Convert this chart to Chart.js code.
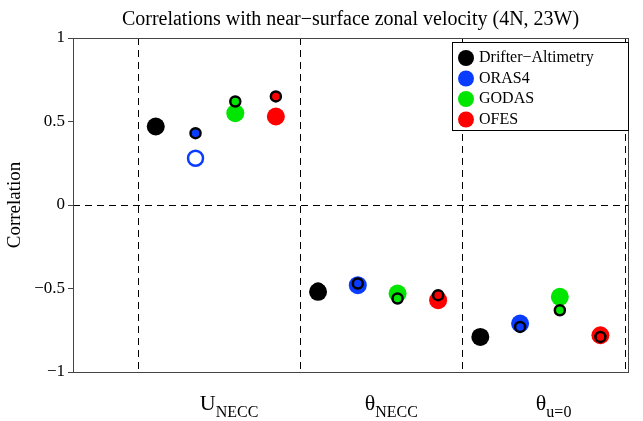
<!DOCTYPE html>
<html>
<head>
<meta charset="utf-8">
<script src="https://cdn.jsdelivr.net/npm/chart.js@4"></script>
<style>
  html, body { margin: 0; padding: 0; background: #fff; }
  #wrap { width: 643px; height: 421px; }
</style>
</head>
<body>
<div id="wrap"><canvas id="corrChart"></canvas></div>
<script>
// categories: U_NECC, theta_NECC, theta_u=0 (at x = 1, 2, 3)
const categories = [1, 2, 3];
const offsets = [-0.39, -0.145, 0.1, 0.35];
const models = ['Drifter\u2212Altimetry', 'ORAS4', 'GODAS', 'OFES'];
const colors = ['#000000', '#0a3cff', '#00e600', '#ff0000'];

// large filled markers
const driftBig = [0.47, -0.52, -0.79];
const orasBig = [null, -0.48, -0.71];
const godasBig = [0.55, -0.53, -0.55];
const ofesBig = [0.53, -0.57, -0.78];
// small markers with black edge
const driftSmall = [null, -0.50, null];
const orasSmall = [0.43, -0.47, -0.73];
const godasSmall = [0.62, -0.56, -0.63];
const ofesSmall = [0.65, -0.54, -0.79];
// open marker
const orasOpen = [0.28, null, null];

const yTicks = [-1, -0.5, 0, 0.5, 1];
const font = '"Liberation Serif", "DejaVu Serif", serif';

function pts(vals, k) {
    return vals.map((v, i) => v === null ? null : { x: categories[i] + offsets[k], y: v })
        .filter(p => p);
}

const bigSets = [driftBig, orasBig, godasBig, ofesBig].map((vals, k) => ({
    label: models[k], data: pts(vals, k), pointRadius: 9, pointHoverRadius: 9,
    backgroundColor: colors[k], borderColor: colors[k], borderWidth: 0, order: 3
}));
const smallSets = [driftSmall, orasSmall, godasSmall, ofesSmall].map((vals, k) => ({
    label: models[k] + ' s', data: pts(vals, k), pointRadius: 5, pointHoverRadius: 5,
    backgroundColor: colors[k], borderColor: '#000', borderWidth: 2.5, order: 1
}));
const openSet = {
    label: 'ORAS4 open', data: pts(orasOpen, 1), pointRadius: 7.5, pointHoverRadius: 7.5,
    backgroundColor: '#fff', borderColor: colors[1], borderWidth: 2.5, order: 2
};

const decor = {
    id: 'decor',
    beforeDatasetsDraw(chart) {
        const { ctx, chartArea: a, scales: { x, y } } = chart;
        ctx.save();
        ctx.strokeStyle = '#000';
        ctx.lineWidth = 1;
        ctx.setLineDash([7, 5]);
        [0.5, 1.5, 2.5, 3.5].forEach(v => {
            const px = Math.round(x.getPixelForValue(v)) + 0.5;
            ctx.beginPath(); ctx.moveTo(px, a.top); ctx.lineTo(px, a.bottom); ctx.stroke();
        });
        const py = Math.round(y.getPixelForValue(0)) + 0.5;
        ctx.beginPath(); ctx.moveTo(a.left, py); ctx.lineTo(a.right, py); ctx.stroke();
        ctx.restore();
    },
    afterDraw(chart) {
        const { ctx, chartArea: a, scales: { x } } = chart;
        ctx.save();
        // frame
        ctx.strokeStyle = '#444';
        ctx.lineWidth = 1;
        ctx.strokeRect(a.left + 0.5, a.top + 0.5, a.width, a.height);
        // title
        ctx.fillStyle = '#000';
        ctx.textAlign = 'center';
        ctx.textBaseline = 'alphabetic';
        ctx.font = '20px ' + font;
        ctx.fillText('Correlations with near\u2212surface zonal velocity (4N, 23W)', (a.left + a.right) / 2, 25);
        // category labels with subscripts
        const labs = [['U', 'NECC'], ['\u03b8', 'NECC'], ['\u03b8', 'u=0']];
        labs.forEach((l, i) => {
            ctx.font = '22px ' + font;
            const w1 = ctx.measureText(l[0]).width;
            ctx.font = '16px ' + font;
            const w2 = ctx.measureText(l[1]).width;
            const cx = x.getPixelForValue(categories[i]) + 10;
            const sx = cx - (w1 + w2) / 2;
            ctx.textAlign = 'left';
            ctx.font = '22px ' + font;
            ctx.fillText(l[0], sx, 410);
            ctx.font = '16px ' + font;
            ctx.fillText(l[1], sx + w1, 417);
        });
        // legend
        const lx = 452, ly = 42, lw = 176, lh = 88;
        ctx.fillStyle = '#fff';
        ctx.fillRect(lx, ly, lw, lh);
        ctx.strokeStyle = '#000';
        ctx.strokeRect(lx + 0.5, ly + 0.5, lw, lh);
        ctx.font = '16px ' + font;
        ctx.textBaseline = 'middle';
        models.forEach((m, k) => {
            const yy = ly + 16 + k * 20.5;
            ctx.fillStyle = colors[k];
            ctx.beginPath(); ctx.arc(lx + 14, yy, 8, 0, Math.PI * 2); ctx.fill();
            ctx.fillStyle = '#000';
            ctx.fillText(m, lx + 27, yy);
        });
        ctx.restore();
    }
};

new Chart(document.getElementById('corrChart'), {
    type: 'scatter',
    data: { datasets: [...smallSets, openSet, ...bigSets] },
    options: {
        responsive: true,
        maintainAspectRatio: false,
        animation: false,
        layout: { padding: { top: 38, right: 15, bottom: 49, left: 0 } },
        plugins: { legend: { display: false }, tooltip: { enabled: false } },
        scales: {
            x: { type: 'linear', min: 0.1, max: 3.52, display: false },
            y: {
                min: -1, max: 1,
                afterFit(s) { s.width = 73; },
                afterBuildTicks(s) { s.ticks = yTicks.map(v => ({ value: v })); },
                grid: { drawOnChartArea: false, drawTicks: true, tickLength: 5, color: '#444' },
                border: { display: false },
                ticks: {
                    color: '#000', font: { family: font, size: 17 }, padding: 3,
                    callback: v => String(v).replace('-', '\u2212')
                },
                title: { display: true, text: 'Correlation', color: '#000', font: { family: font, size: 19 }, padding: 4 }
            }
        }
    },
    plugins: [decor]
});
</script>
</body>
</html>
